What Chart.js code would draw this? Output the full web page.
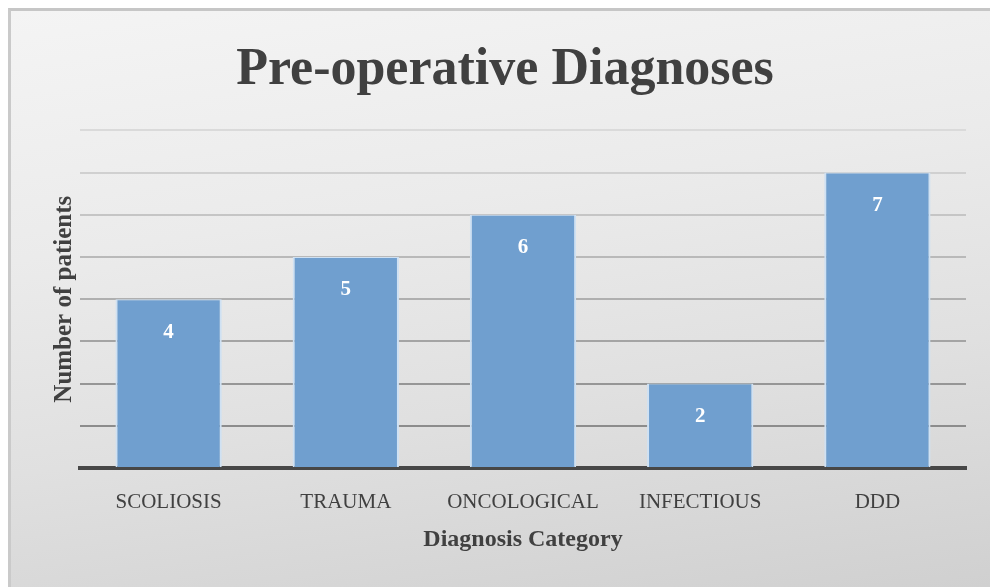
<!DOCTYPE html>
<html>
<head>
<meta charset="utf-8">
<script src="https://cdn.jsdelivr.net/npm/chart.js@4/dist/chart.umd.min.js"></script>
<style>
  html, body { margin: 0; padding: 0; background: #ffffff; }
  #frame {
    position: absolute; left: 8px; top: 8px; width: 979px; height: 576px;
    border-top: 3px solid #c6c6c6; border-left: 3px solid #cacaca;
    background: linear-gradient(172deg, #f4f4f4 0%, #ebebeb 35%, #e0e0e0 65%, #d0d0d0 100%);
  }
  #chart { display: block; }
</style>
</head>
<body>
<div id="frame"><canvas id="chart" width="979" height="576"></canvas></div>
<script>
"use strict";
const categories = ["SCOLIOSIS", "TRAUMA", "ONCOLOGICAL", "INFECTIOUS", "DDD"];
const patients = [4, 5, 6, 2, 7];
const yMax = 8;
const gridShades = ["#8e8e8e", "#8c8c8c", "#969696", "#a4a4a4", "#afafaf", "#b9b9b9", "#c5c5c5", "#d0d0d0", "#dadada"];

const serif = "'Liberation Serif', 'DejaVu Serif', serif";

const valueLabels = {
    id: "valueLabels",
    afterDatasetsDraw(chart) {
        const ctx = chart.ctx;
        const meta = chart.getDatasetMeta(0);
        ctx.save();
        ctx.fillStyle = "#ffffff";
        ctx.font = "bold 21px " + serif;
        ctx.textAlign = "center";
        ctx.textBaseline = "middle";
        meta.data.forEach((bar, i) => {
            ctx.fillText(String(patients[i]), bar.x, bar.y + 33);
        });
        ctx.restore();
    }
};

new Chart(document.getElementById("chart").getContext("2d"), {
    type: "bar",
    data: {
        labels: categories,
        datasets: [{
            data: patients,
            backgroundColor: "#709fcf",
            borderColor: "#cfe1f3",
            borderWidth: { top: 1, left: 2, right: 2, bottom: 0 },
            borderSkipped: false,
            categoryPercentage: 1,
            barPercentage: 0.6
        }]
    },
    options: {
        responsive: false,
        animation: false,
        layout: { padding: { left: 33, right: 24, top: 0, bottom: 0 } },
        plugins: {
            legend: { display: false },
            tooltip: { enabled: false },
            title: {
                display: true,
                text: "Pre-operative Diagnoses",
                color: "#404040",
                font: { family: serif, size: 52, weight: "bold", lineHeight: 1.2 },
                padding: { top: 28, bottom: 29 }
            }
        },
        scales: {
            x: {
                grid: { display: false, drawTicks: false },
                border: { display: true, color: "#474747", width: 4 },
                ticks: { color: "#404040", font: { family: serif, size: 21 }, padding: 22, maxRotation: 0 },
                title: {
                    display: true,
                    text: "Diagnosis Category",
                    color: "#404040",
                    font: { family: serif, size: 24, weight: "bold", lineHeight: 1.2 },
                    padding: { top: 0, bottom: 33 }
                },
                afterFit(scale) { scale.height = 119; }
            },
            y: {
                min: 0,
                max: yMax,
                ticks: { display: false, stepSize: 1 },
                grid: {
                    drawTicks: false,
                    lineWidth: 2,
                    color: (c) => gridShades[c.tick ? c.tick.value : 0]
                },
                border: { display: false },
                title: {
                    display: true,
                    text: "Number of patients",
                    color: "#404040",
                    font: { family: serif, size: 25, weight: "bold", lineHeight: 1.2 },
                    padding: { top: 6, bottom: 0 }
                },
                afterFit(scale) { scale.width = 36; }
            }
        }
    },
    plugins: [valueLabels]
});
</script>
</body>
</html>
